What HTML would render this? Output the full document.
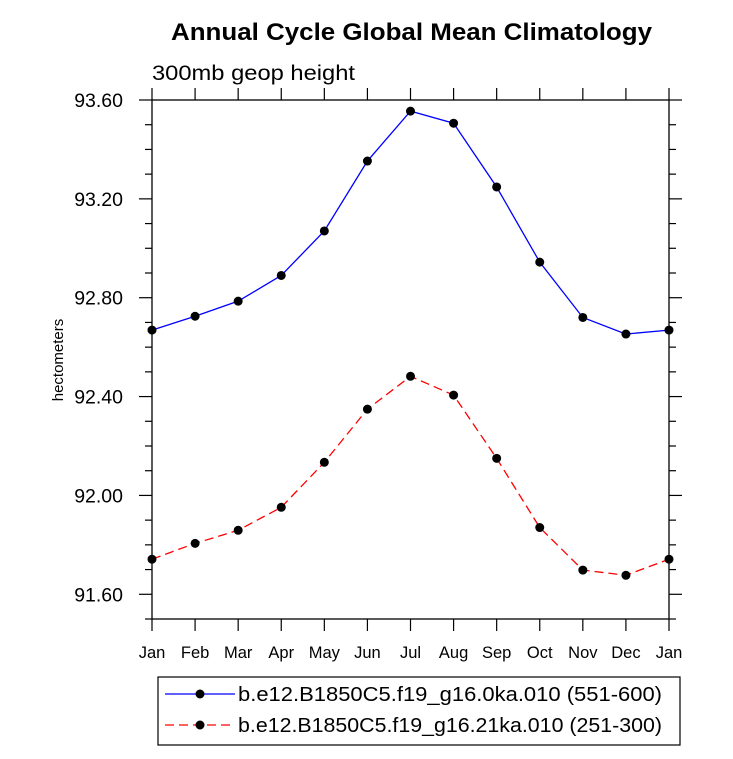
<!DOCTYPE html>
<html><head><meta charset="utf-8"><style>
body{margin:0;background:#fff;}
svg text{font-family:"Liberation Sans",Arial,sans-serif;fill:#000;}
</style></head><body>
<svg id="chart" width="733" height="754" xmlns="http://www.w3.org/2000/svg">
<text x="171" y="40" font-size="24" font-weight="bold" textLength="481" lengthAdjust="spacingAndGlyphs">Annual Cycle Global Mean Climatology</text>
<text x="152" y="80" font-size="21" textLength="203" lengthAdjust="spacingAndGlyphs">300mb geop height</text>
<text transform="translate(63,360) rotate(-90)" text-anchor="middle" font-size="15">hectometers</text>
<g id="axes"></g>
<g id="series"></g>
<rect x="158" y="677" width="522" height="68" fill="none" stroke="#000" stroke-width="1.2"/>
<line x1="165" y1="694" x2="235" y2="694" stroke="#0000ff" stroke-width="1.3"/>
<circle cx="200" cy="694" r="4.5" fill="#000"/>
<text x="238" y="701" font-size="20" textLength="424" lengthAdjust="spacingAndGlyphs">b.e12.B1850C5.f19_g16.0ka.010 (551-600)</text>
<line x1="165" y1="725" x2="235" y2="725" stroke="#ff0000" stroke-width="1.3" stroke-dasharray="9,5"/>
<circle cx="200" cy="725" r="4.5" fill="#000"/>
<text x="238" y="732" font-size="20" textLength="424" lengthAdjust="spacingAndGlyphs">b.e12.B1850C5.f19_g16.21ka.010 (251-300)</text>
</svg>
<script>
const months=["Jan","Feb","Mar","Apr","May","Jun","Jul","Aug","Sep","Oct","Nov","Dec","Jan"];
const blueValues=[92.669,92.725,92.786,92.89,93.07,93.353,93.555,93.506,93.248,92.944,92.72,92.653,92.669];
const redValues=[91.742,91.806,91.859,91.952,92.134,92.349,92.482,92.406,92.15,91.87,91.698,91.677,91.742];
const yTicks=[91.6,92.0,92.4,92.8,93.2,93.6];
const yMin=91.5,yMax=93.6;
const L=152,R=669,T=100,B=619;
const NS="http://www.w3.org/2000/svg";
const xs=i=>L+(R-L)*i/(months.length-1);
const ys=v=>B-(v-yMin)/(yMax-yMin)*(B-T);
function mk(tag,at,parent){const e=document.createElementNS(NS,tag);for(const k in at)e.setAttribute(k,at[k]);parent.appendChild(e);return e;}
const ax=document.getElementById('axes');
const fr=mk('rect',{x:L,y:T,width:R-L,height:B-T,fill:'none',stroke:'#000','stroke-width':1.3},ax);


months.forEach((m,i)=>{const x=xs(i);
mk('line',{x1:x,y1:B,x2:x,y2:B+12,stroke:'#000','stroke-width':1.2},ax);
mk('line',{x1:x,y1:T,x2:x,y2:T-12,stroke:'#000','stroke-width':1.2},ax);
const t=mk('text',{x:x,y:658,'text-anchor':'middle','font-size':16.5},ax);t.textContent=m;


});
for(let v=yMin;v<=yMax+1e-6;v+=0.1){const y=ys(v);const major=yTicks.some(t=>Math.abs(t-v)<1e-6);const len=major?13:7;
mk('line',{x1:L,y1:y,x2:L-len,y2:y,stroke:'#000','stroke-width':1.2},ax);
mk('line',{x1:R,y1:y,x2:R+len,y2:y,stroke:'#000','stroke-width':1.2},ax);}
yTicks.forEach(v=>{const t=mk('text',{x:123,y:ys(v)+7,'text-anchor':'end','font-size':19.5},ax);t.textContent=v.toFixed(2);


});
const sg=document.getElementById('series');
function draw(vals,color,dash,name){
const p=mk('polyline',{points:vals.map((v,i)=>xs(i)+','+ys(v)).join(' '),fill:'none',stroke:color,'stroke-width':1.3},sg);
if(dash)p.setAttribute('stroke-dasharray','9,5');


vals.forEach((v,i)=>{const c=mk('circle',{cx:xs(i),cy:ys(v),r:4.5,fill:'#000'},sg);

});
}
draw(blueValues,'#0000ff',false,'blue-series');
draw(redValues,'#ff0000',true,'red-series');
</script>
</body></html>
